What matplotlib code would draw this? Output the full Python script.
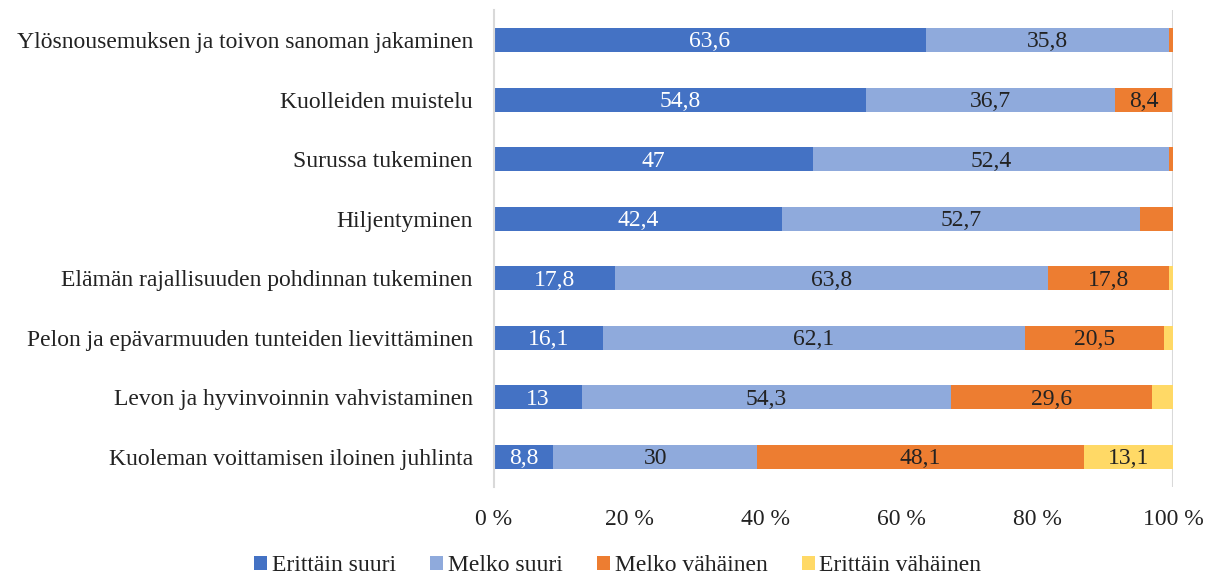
import matplotlib
matplotlib.use("Agg")
import matplotlib.pyplot as plt
import numpy as np

categories = [
    "Ylösnousemuksen ja toivon sanoman jakaminen",
    "Kuolleiden muistelu",
    "Surussa tukeminen",
    "Hiljentyminen",
    "Elämän rajallisuuden pohdinnan tukeminen",
    "Pelon ja epävarmuuden tunteiden lievittäminen",
    "Levon ja hyvinvoinnin vahvistaminen",
    "Kuoleman voittamisen iloinen juhlinta",
]
series_names = ["Erittäin suuri", "Melko suuri", "Melko vähäinen", "Erittäin vähäinen"]
erittain_suuri = [63.6, 54.8, 47, 42.4, 17.8, 16.1, 13, 8.8]
melko_suuri = [35.8, 36.7, 52.4, 52.7, 63.8, 62.1, 54.3, 30]
melko_vahainen = [0.6, 8.4, 0.6, 4.9, 17.8, 20.5, 29.6, 48.1]
erittain_vahainen = [0, 0, 0, 0, 0.6, 1.3, 3.1, 13.1]
xticks = [0, 20, 40, 60, 80, 100]
xticklabels = ["0 %", "20 %", "40 %", "60 %", "80 %", "100 %"]

colors = ["#4472C4", "#8FAADC", "#ED7D31", "#FFD966"]
text_colors = ["white", "#222222", "#222222", "#222222"]
min_label = 6.0
fs = 17

plt.rcParams['font.family'] = ['Liberation Serif', 'DejaVu Serif']

fig = plt.figure(figsize=(12.16, 5.76), dpi=100)
ax = fig.add_axes([0.406, 0.155, 0.5586, 0.827])

series = [erittain_suuri, melko_suuri, melko_vahainen, erittain_vahainen]
y = np.arange(len(categories))
left = np.zeros(len(categories))
for name, vals, col, tcol in zip(series_names, series, colors, text_colors):
    vals = np.array(vals, dtype=float)
    ax.barh(y, vals, left=left, height=0.4, color=col, label=name, edgecolor='none')
    for yi, (l, v) in enumerate(zip(left, vals)):
        if v >= min_label:
            s = (f"{v:g}").replace('.', ',')
            ax.text(l + v / 2, yi + 0.03, s, ha='center', va='center', color=tcol, fontsize=fs)
    left = left + vals

ax.set_xlim(0, 100)
ax.set_ylim(len(categories) - 0.5, -0.5)
ax.set_yticks(y)
ax.set_yticklabels(categories, fontsize=fs, color='#222222')
ax.set_xticks(xticks)
ax.set_xticklabels(xticklabels, fontsize=fs, color='#222222')
ax.tick_params(axis='both', length=0)
ax.tick_params(axis='y', pad=15)
ax.tick_params(axis='x', pad=16)
for sp in ['top', 'right', 'bottom']:
    ax.spines[sp].set_visible(False)
ax.spines['left'].set_color('#D9D9D9')
ax.spines['left'].set_linewidth(1.5)
ax.axvline(100, color='#D9D9D9', linewidth=1.5, zorder=0)

handles, labels = ax.get_legend_handles_labels()
fig.legend(handles, labels, loc='center', bbox_to_anchor=(0.508, 0.018), ncol=4,
           frameon=False, fontsize=fs, handlelength=0.55, handleheight=0.55,
           handletextpad=0.2, columnspacing=1.45, labelcolor='#222222')

fig.savefig("out.png", dpi=100)
